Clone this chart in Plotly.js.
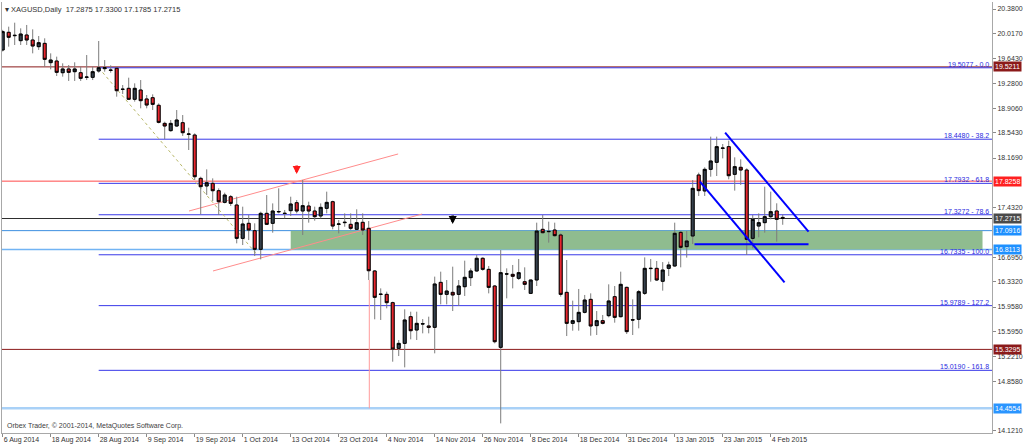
<!DOCTYPE html>
<html><head><meta charset="utf-8">
<script src="https://cdn.plot.ly/plotly-3.0.1.min.js"></script>
<style>html,body{margin:0;padding:0;background:#fff}#chart{width:1024px;height:447px}</style>
</head><body><div id="chart"></div>
<script>
// ---- data ----
const symbolName = 'XAGUSD,Daily';
const tickBars = [0, 8, 16, 24, 32, 40, 48, 56, 64, 72, 80, 88, 96, 104, 112, 120, 128];
const tickLabels = ['6 Aug 2014', '18 Aug 2014', '28 Aug 2014', '9 Sep 2014', '19 Sep 2014', '1 Oct 2014',
  '13 Oct 2014', '23 Oct 2014', '4 Nov 2014', '14 Nov 2014', '26 Nov 2014', '8 Dec 2014', '18 Dec 2014',
  '31 Dec 2014', '13 Jan 2015', '23 Jan 2015', '4 Feb 2015'];
// visible right-axis labels (the others are hidden behind the price boxes)
const yTicks = [20.3800, 20.0170, 19.6430, 19.2800, 18.9060, 18.5430, 18.1690, 17.4320,
  16.6950, 16.3320, 15.9580, 15.5950, 15.2210, 14.8580, 14.1210];

const opens = [19.772,20.034,19.984,19.910,19.994,19.920,19.821,19.870,19.584,19.608,
  19.435,19.490,19.450,19.435,19.366,19.366,19.460,19.495,19.475,19.500,
  19.190,19.203,19.040,19.178,19.045,19.064,18.951,18.683,18.575,18.644,
  18.693,18.520,18.510,17.867,17.754,17.793,17.684,17.511,17.595,17.472,
  16.977,17.200,17.091,16.814,17.348,17.200,17.370,17.350,17.388,17.506,
  17.383,17.457,17.383,17.309,17.422,17.521,17.185,17.210,17.185,17.111,
  17.215,17.126,16.493,16.150,16.146,16.023,15.345,15.419,15.815,15.617,
  15.706,15.677,15.657,16.324,16.146,16.176,16.146,16.260,16.394,16.493,
  16.681,16.517,16.270,15.360,16.450,16.443,16.384,16.334,16.161,16.359,
  17.111,17.076,17.101,17.027,16.176,15.716,15.741,15.879,16.072,15.682,
  15.756,15.830,16.112,15.815,16.250,15.770,15.776,16.161,16.528,16.532,
  16.340,16.532,16.567,17.066,16.854,17.012,17.917,17.680,18.001,18.105,
  18.318,18.338,17.927,18.031,17.991,16.977,17.160,17.210,17.299,17.383,
  17.2875];
const highs = [20.070,20.118,20.177,20.093,20.143,20.078,19.979,19.945,19.722,19.673,
  19.574,19.549,19.589,19.524,19.697,19.524,19.905,19.623,19.544,19.509,
  19.252,19.361,19.277,19.326,19.104,19.114,18.980,18.708,18.733,18.881,
  18.807,18.619,18.535,17.892,18.001,17.867,17.719,17.655,17.620,17.595,
  17.447,17.323,17.200,17.373,17.620,17.496,17.719,17.398,17.595,17.546,
  17.843,17.521,17.447,17.496,17.670,17.536,17.249,17.348,17.348,17.408,
  17.348,17.234,16.507,16.235,16.186,16.038,15.469,15.924,15.889,15.889,
  15.780,15.815,16.409,16.483,16.359,16.557,16.359,16.646,16.532,16.730,
  16.695,16.567,16.285,16.804,16.532,16.582,16.671,16.547,16.359,17.210,
  17.324,17.225,17.210,17.052,16.656,16.053,16.226,16.137,16.161,15.899,
  15.840,16.295,16.270,16.483,16.260,16.072,16.211,16.695,16.671,16.641,
  16.625,16.631,17.210,17.086,17.086,17.843,17.952,18.031,18.486,18.486,
  18.377,18.427,18.179,18.150,18.016,17.324,17.348,17.744,17.670,17.497,
  17.3300];
const lows = [19.750,19.821,19.846,19.846,19.846,19.722,19.772,19.524,19.485,19.386,
  19.376,19.312,19.312,19.312,19.326,19.326,19.435,19.450,19.435,19.079,
  19.119,19.030,19.005,18.906,18.906,18.881,18.683,18.451,18.560,18.634,
  18.496,18.288,17.843,17.333,17.620,17.531,17.323,17.496,17.457,16.903,
  16.878,16.952,16.715,16.665,17.175,17.061,17.348,17.274,17.309,17.348,
  17.027,17.210,17.239,17.274,17.348,17.111,17.051,17.150,17.101,17.101,
  17.027,16.359,15.776,15.766,15.939,15.147,15.231,15.063,15.479,15.469,
  15.568,15.568,15.271,15.998,15.998,15.899,15.973,16.122,16.270,16.483,
  16.497,16.161,15.419,14.232,16.087,16.235,16.359,16.211,16.151,16.270,
  17.052,16.913,17.002,16.112,15.528,15.607,15.607,15.864,15.533,15.543,
  15.701,15.805,15.726,15.805,15.558,15.543,15.642,16.137,16.334,16.344,
  16.201,16.418,16.557,16.547,16.691,16.893,17.606,17.606,17.892,17.902,
  18.164,17.853,17.685,17.769,16.730,16.829,16.992,17.061,17.259,16.928,
  17.1785];
const closes = [20.044,19.960,19.989,20.009,19.920,19.831,19.880,19.633,19.623,19.440,
  19.490,19.440,19.490,19.351,19.370,19.450,19.509,19.509,19.470,19.168,
  19.188,19.040,19.203,19.020,18.955,18.965,18.698,18.644,18.683,18.733,
  18.545,18.525,17.892,17.744,17.803,17.684,17.521,17.620,17.496,16.977,
  17.190,17.101,16.814,17.348,17.185,17.383,17.375,17.346,17.487,17.383,
  17.462,17.383,17.299,17.437,17.511,17.160,17.190,17.215,17.126,17.210,
  17.101,16.497,16.102,16.146,16.023,15.335,15.419,15.766,15.607,15.716,
  15.710,15.657,16.300,16.146,16.196,16.137,16.270,16.399,16.493,16.681,
  16.517,16.250,15.444,16.468,16.448,16.414,16.468,16.295,16.359,17.086,
  17.061,17.080,17.017,16.146,15.716,15.756,15.879,16.062,15.677,15.756,
  15.716,16.048,15.805,16.295,15.593,15.766,16.186,16.532,16.532,16.359,
  16.507,16.582,17.052,16.844,16.938,17.719,17.685,18.001,18.125,18.338,
  18.313,17.907,18.041,17.991,16.962,17.259,17.210,17.299,17.373,17.259,
  17.2715];

// Fibonacci retracement object
const fibLevels = [19.5077, 18.4480, 17.7932, 17.3272, 16.7335, 15.9789, 15.0190];
const fibRatios = ['0.0', '38.2', '61.8', '78.6', '100.0', '127.2', '161.8'];
const fibStartBar = 16;
const fibAnchorBars = [16, 42.4];
const fibAnchorPrices = [19.5077, 16.7335];

// horizontal price lines (with right-axis labels)
const priceLines = [19.5211, 17.8258, 17.2715, 17.0916, 16.8113, 15.3295, 14.4554];

// support zone rectangle
const zoneBars = [48, 163.3];
const zonePrices = [16.8113, 17.0916];

// trend lines
const redUpperBars = [31.05, 65.9], redUpperPrices = [17.383, 18.229];
const redLowerBars = [35.05, 69.9], redLowerPrices = [16.493, 17.338];
const redVBar = 61.1, redVPrices = [16.36, 14.4554];
const blueUpperBars = [120.4, 134.3], blueUpperPrices = [18.545, 17.076];
const blueLowerBars = [116.2, 130.3], blueLowerPrices = [17.818, 16.325];
const blueFloorBars = [115.3, 134.3], blueFloorPrice = 16.889;

// arrow signs (tip prices)
const arrowBars = [49, 75];
const arrowPrices = [17.932, 17.19];

// ---- styles ----
const priceLineColors = ['#8b1a1a', '#ff4a4a', '#2e2e2e', '#3d8fe0', '#72b4f4', '#8b1a1a', '#a9d1f7'];
const priceLineWidths = [1, 1, 1, 1, 1.5, 1, 2.5];
const priceBoxColors = ['#8b1a1a', '#ff2020', '#4a4a4a', '#1e90ff', '#1e90ff', '#8b1a1a', '#2a95ff'];
const arrowColors = ['#ff1a1a', '#000000'];
const FONT = 'Liberation Sans, Arial, sans-serif';

const bars = opens.map((_, i) => i);
const bodyHigh = opens.map((o, i) => Math.max(o, closes[i]));
const bodyLow = opens.map((o, i) => Math.min(o, closes[i]));

const UP = '#36414c', DOWN = '#e8262e';
const wickTrace = {
  type: 'candlestick', x: bars, open: opens, high: highs, low: lows, close: closes,
  increasing: {line: {color: '#7d7d7d', width: 1}, fillcolor: UP},
  decreasing: {line: {color: '#7d7d7d', width: 1}, fillcolor: DOWN},
  whiskerwidth: 0, hoverinfo: 'skip', showlegend: false
};
const bodyTrace = {
  type: 'candlestick', x: bars, open: opens, high: bodyHigh, low: bodyLow, close: closes,
  increasing: {line: {color: '#000000', width: 1}, fillcolor: UP},
  decreasing: {line: {color: '#000000', width: 1}, fillcolor: DOWN},
  whiskerwidth: 0, hoverinfo: 'skip', showlegend: false
};

const shapes = [];
shapes.push({type: 'rect', layer: 'below', xref: 'x', yref: 'y', x0: zoneBars[0], x1: zoneBars[1],
  y0: zonePrices[0], y1: zonePrices[1], fillcolor: '#8fbc8f', line: {width: 0}});
fibLevels.forEach(v => shapes.push({type: 'line', layer: 'below', xref: 'x', yref: 'y',
  x0: fibStartBar, x1: 200, y0: v, y1: v, line: {color: '#3838e8', width: 1}}));
priceLines.forEach((v, i) => shapes.push({type: 'line', layer: 'below', xref: 'paper', yref: 'y',
  x0: 0, x1: 1, y0: v, y1: v, line: {color: priceLineColors[i], width: priceLineWidths[i]}}));
shapes.push({type: 'line', layer: 'below', xref: 'x', yref: 'y', x0: fibAnchorBars[0], x1: fibAnchorBars[1],
  y0: fibAnchorPrices[0], y1: fibAnchorPrices[1], line: {color: '#b8b86a', width: 1, dash: 'dot'}});
[[redUpperBars, redUpperPrices], [redLowerBars, redLowerPrices]].forEach(([b, p]) =>
  shapes.push({type: 'line', layer: 'below', xref: 'x', yref: 'y', x0: b[0], x1: b[1], y0: p[0], y1: p[1],
    line: {color: '#ff8c8c', width: 1}}));
shapes.push({type: 'line', layer: 'below', xref: 'x', yref: 'y', x0: redVBar, x1: redVBar,
  y0: redVPrices[0], y1: redVPrices[1], line: {color: '#ff9a9a', width: 1}});
[[blueUpperBars, blueUpperPrices], [blueLowerBars, blueLowerPrices]].forEach(([b, p]) =>
  shapes.push({type: 'line', layer: 'above', xref: 'x', yref: 'y', x0: b[0], x1: b[1], y0: p[0], y1: p[1],
    line: {color: '#0000ff', width: 2}}));
shapes.push({type: 'line', layer: 'above', xref: 'x', yref: 'y', x0: blueFloorBars[0], x1: blueFloorBars[1],
  y0: blueFloorPrice, y1: blueFloorPrice, line: {color: '#0000ff', width: 2}});

const annotations = [];
fibLevels.forEach((v, i) => annotations.push({xref: 'paper', yref: 'y', x: 1, y: v, xanchor: 'right',
  yanchor: 'bottom', xshift: -1, yshift: -2, showarrow: false, text: v.toFixed(4) + ' - ' + fibRatios[i],
  font: {family: FONT, size: 7, color: '#2a2ae0'}}));
priceLines.forEach((v, i) => annotations.push({xref: 'paper', yref: 'y', x: 1, y: v, xanchor: 'left',
  yanchor: 'middle', xshift: 1, showarrow: false, text: v.toFixed(4), bgcolor: priceBoxColors[i],
  borderpad: 1, font: {family: FONT, size: 7, color: '#ffffff'}}));
arrowBars.forEach((b, i) => annotations.push({xref: 'x', yref: 'y', x: b, y: arrowPrices[i], ax: 0, ay: -10,
  showarrow: true, arrowhead: 2, arrowsize: 0.62, arrowwidth: 2.6, arrowcolor: arrowColors[i], text: ''}));
annotations.push({xref: 'paper', yref: 'paper', x: 0, y: 0, xanchor: 'left', yanchor: 'bottom', xshift: 3,
  yshift: 1, showarrow: false, text: 'Orbex Trader, \u00a9 2001-2014, MetaQuotes Software Corp.',
  font: {family: FONT, size: 7, color: '#404040'}});

const last = opens.length - 1;
const titleText = '\u25BE ' + symbolName + '\u00a0\u00a0' + [opens[last], highs[last], lows[last], closes[last]]
  .map(v => v.toFixed(4)).join(' ');

const layout = {
  width: 1024, height: 447,
  margin: {l: 2, r: 32, t: 2, b: 14, pad: 0},
  paper_bgcolor: '#ffffff', plot_bgcolor: '#ffffff',
  showlegend: false,
  font: {family: FONT, size: 7, color: '#333333'},
  title: {text: titleText, xref: 'container', yref: 'container', x: 5 / 1024, xanchor: 'left',
    y: 1 - 9 / 447, yanchor: 'middle', font: {family: FONT, size: 7.5, color: '#333333'}},
  xaxis: {
    range: [-0.117, 164.88], tickmode: 'array', tickvals: tickBars, ticktext: tickLabels,
    ticks: 'outside', ticklen: 3, tickcolor: '#8a8a8a', ticklabelposition: 'outside right', tickangle: 0,
    showline: true, linecolor: '#a8a8a8', linewidth: 1, showgrid: false, zeroline: false,
    rangeslider: {visible: false}, fixedrange: true, tickfont: {family: FONT, size: 7, color: '#333333'}
  },
  yaxis: {
    side: 'right', range: [14.0892, 20.4838], tickmode: 'array', tickvals: yTicks,
    ticktext: yTicks.map(v => v.toFixed(4)), ticks: 'outside', ticklen: 3, tickcolor: '#8a8a8a',
    showline: true, mirror: true, linecolor: '#a8a8a8', linewidth: 1, showgrid: false, zeroline: false,
    fixedrange: true, tickfont: {family: FONT, size: 7, color: '#333333'}
  },
  shapes: shapes,
  annotations: annotations
};

Plotly.newPlot('chart', [wickTrace, bodyTrace], layout, {staticPlot: true, displayModeBar: false});
</script></body></html>
